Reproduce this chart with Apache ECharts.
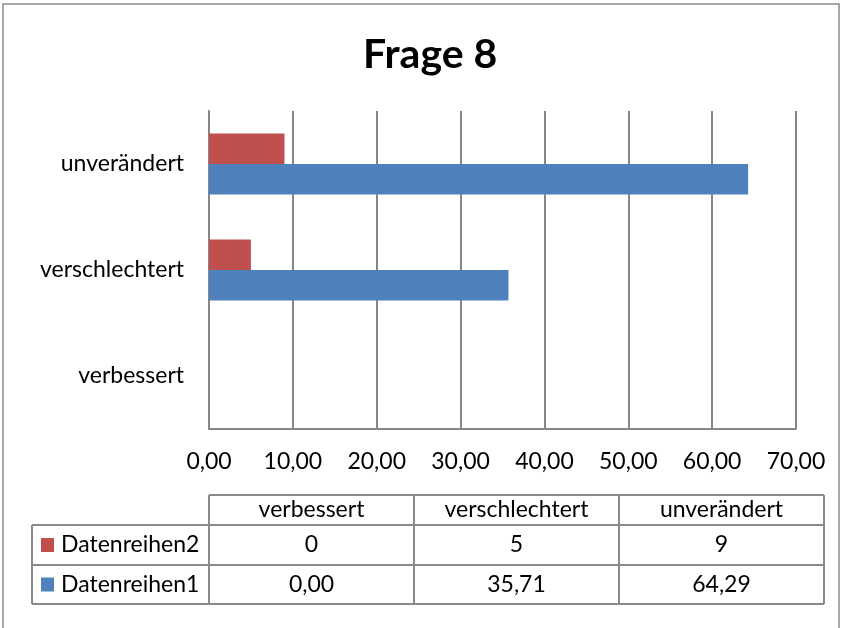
<!DOCTYPE html>
<html>
<head>
<meta charset="utf-8">
<script src="https://cdn.jsdelivr.net/npm/echarts@6/dist/echarts.min.js"></script>
<style>
html,body{margin:0;padding:0;background:#fff;}
#chart{width:842px;height:628px;}
</style>
</head>
<body>
<div id="chart"></div>
<script>
const titleText = 'Frage 8';
const categories = ['verbessert', 'verschlechtert', 'unverändert'];
const series1Name = 'Datenreihen1';
const series1Values = [0.00, 35.71, 64.29];
const series2Name = 'Datenreihen2';
const series2Values = [0, 5, 9];
const xTicks = [0, 10, 20, 30, 40, 50, 60, 70];

const FONT = 'Lato';
const GRAY = '#868686';
const BLUE = '#4F81BD';
const RED = '#C0504D';
const FS = 23;

const fmt2 = v => v.toFixed(2).replace('.', ',');

const chart = echarts.init(document.getElementById('chart'), null, {renderer: 'canvas'});

// table geometry
const tblLeft = 32, colStart = 209, tblRight = 824;
const rowY = [495, 525, 565, 604];
const colW = (tblRight - colStart) / categories.length;
const graphics = [];
// outer chart frame
graphics.push({type: 'rect', shape: {x: 3, y: 4, width: 836, height: 640}, style: {fill: null, stroke: '#8a8a8a', lineWidth: 1.5}, silent: true});
// table lines
const lineStyle = {stroke: '#8a8a8a', lineWidth: 2};
graphics.push({type: 'line', shape: {x1: colStart, y1: rowY[0], x2: tblRight, y2: rowY[0]}, style: lineStyle});
for (let r = 1; r < rowY.length; r++) {
  graphics.push({type: 'line', shape: {x1: tblLeft, y1: rowY[r], x2: tblRight, y2: rowY[r]}, style: lineStyle});
}
graphics.push({type: 'line', shape: {x1: tblLeft, y1: rowY[1], x2: tblLeft, y2: rowY[3]}, style: lineStyle});
for (let c = 0; c <= categories.length; c++) {
  const x = colStart + c * colW;
  graphics.push({type: 'line', shape: {x1: x, y1: rowY[0], x2: x, y2: rowY[3]}, style: lineStyle});
}
const txt = (x, y, s, align) => ({type: 'text', x: x, y: y, style: {text: s, font: FS + 'px ' + FONT, fill: '#000', align: align || 'center', verticalAlign: 'middle'}});
categories.forEach((c, i) => {
  const cx = colStart + (i + 0.5) * colW;
  graphics.push(txt(cx, (rowY[0] + rowY[1]) / 2, c));
  graphics.push(txt(cx, (rowY[1] + rowY[2]) / 2, String(series2Values[i])));
  graphics.push(txt(cx, (rowY[2] + rowY[3]) / 2, fmt2(series1Values[i])));
});
// legend keys in table
const r2c = (rowY[1] + rowY[2]) / 2, r3c = (rowY[2] + rowY[3]) / 2;
graphics.push({type: 'rect', shape: {x: 41, y: r2c - 7, width: 13, height: 14}, style: {fill: RED}});
graphics.push(txt(61, r2c, series2Name, 'left'));
graphics.push({type: 'rect', shape: {x: 41, y: r3c - 7, width: 13, height: 14}, style: {fill: BLUE}});
graphics.push(txt(61, r3c, series1Name, 'left'));

chart.setOption({
  animation: false,
  backgroundColor: '#fff',
  title: {
    text: titleText,
    left: 358,
    top: 29,
    textStyle: {fontFamily: FONT, fontSize: 41, fontWeight: 'bold', color: '#000'}
  },
  grid: {left: 209, right: 46, top: 111, bottom: 199, containLabel: false},
  xAxis: {
    type: 'value',
    min: xTicks[0],
    max: xTicks[xTicks.length - 1],
    interval: xTicks[1] - xTicks[0],
    axisLine: {show: true, lineStyle: {color: GRAY, width: 2}},
    axisTick: {show: false},
    splitLine: {show: true, lineStyle: {color: GRAY, width: 2}},
    axisLabel: {formatter: v => fmt2(v), fontFamily: FONT, fontSize: FS, color: '#000', margin: 21}
  },
  yAxis: {
    type: 'category',
    data: categories,
    axisLine: {show: true, lineStyle: {color: GRAY, width: 2}},
    axisTick: {show: false},
    splitLine: {show: false},
    axisLabel: {fontFamily: FONT, fontSize: FS, color: '#000', margin: 25}
  },
  series: [
    {name: series2Name, type: 'bar', data: series2Values, itemStyle: {color: RED}, barGap: '0%', barCategoryGap: '42.5%'},
    {name: series1Name, type: 'bar', data: series1Values, itemStyle: {color: BLUE}, barGap: '0%', barCategoryGap: '42.5%'}
  ],
  graphic: graphics
});
</script>
</body>
</html>
